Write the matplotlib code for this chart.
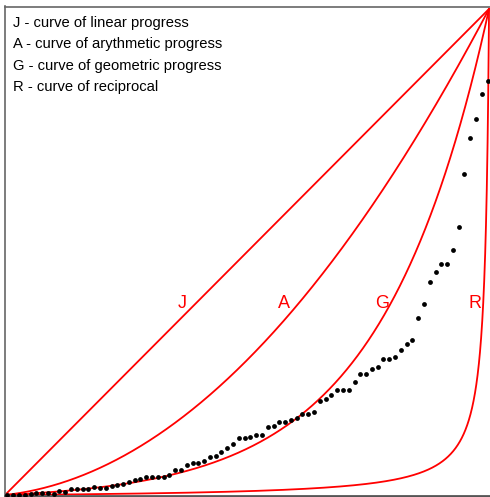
import numpy as np
import matplotlib.pyplot as plt

plt.rcParams['font.family'] = ['Liberation Sans', 'DejaVu Sans']

# observed cumulative shares (sorted), one per unit
shares = [0.0, 0.0, 0.0, 0.0, 0.002, 0.0035, 0.0035, 0.0035, 0.003, 0.008,
          0.007, 0.012, 0.012, 0.012, 0.012, 0.016, 0.015, 0.015, 0.019, 0.020,
          0.022, 0.026, 0.030, 0.033, 0.037, 0.037, 0.037, 0.037, 0.041, 0.052,
          0.052, 0.062, 0.065, 0.065, 0.069, 0.078, 0.081, 0.088, 0.096, 0.104,
          0.117, 0.117, 0.120, 0.123, 0.123, 0.139, 0.143, 0.151, 0.151, 0.154,
          0.159, 0.167, 0.167, 0.170, 0.194, 0.198, 0.206, 0.216, 0.216, 0.216,
          0.233, 0.248, 0.248, 0.260, 0.264, 0.279, 0.279, 0.283, 0.299, 0.310,
          0.318, 0.365, 0.392, 0.439, 0.459, 0.475, 0.475, 0.505, 0.552, 0.660,
          0.735, 0.774, 0.824, 0.852]
units = np.linspace(0.005, 0.997, len(shares))

legend_lines = ['J - curve of linear progress',
                'A - curve of arythmetic progress',
                'G - curve of geometric progress',
                'R - curve of reciprocal']
curve_names = ['J', 'A', 'G', 'R']
name_x = [0.366, 0.577, 0.780, 0.972]

arith_c = 0.11   # linear part of the arithmetic curve
geom_k = 4.5     # growth rate of the geometric curve
recip_e = 0.008  # offset of the reciprocal curve

fig = plt.figure(figsize=(4.9, 4.97), dpi=100)
ax = fig.add_axes([5 / 490, 1.5 / 497, 485 / 490, 489 / 497])

x = np.linspace(0, 1, 3000)
ax.plot(x, x, color='red', lw=1.3)
ax.plot(x, arith_c * x + (1 - arith_c) * x ** 2, color='red', lw=1.3)
ax.plot(x, (np.exp(geom_k * x) - 1) / (np.exp(geom_k) - 1), color='red', lw=1.3)
ax.plot(x, x * recip_e / (1 + recip_e - x), color='red', lw=1.3)

ax.scatter(units, shares, s=12, color='black', zorder=3, linewidths=0)

for name, nx in zip(curve_names, name_x):
    ax.text(nx, 0.395, name, color='red', fontsize=13, ha='center', va='center')

for i, line in enumerate(legend_lines):
    ax.text(0.017, 0.972 - i * 0.0445, line, fontsize=10.6, va='center')

ax.set_xlim(0, 1.002)
ax.set_ylim(-0.001, 1.005)
ax.set_xticks([])
ax.set_yticks([])
ax.spines['right'].set_visible(False)
for side in ['left', 'top']:
    ax.spines[side].set_color('#666666')
    ax.spines[side].set_linewidth(1.2)
ax.spines['bottom'].set_color('#555555')
ax.spines['bottom'].set_linewidth(2)

fig.savefig('out.png', dpi=100)
